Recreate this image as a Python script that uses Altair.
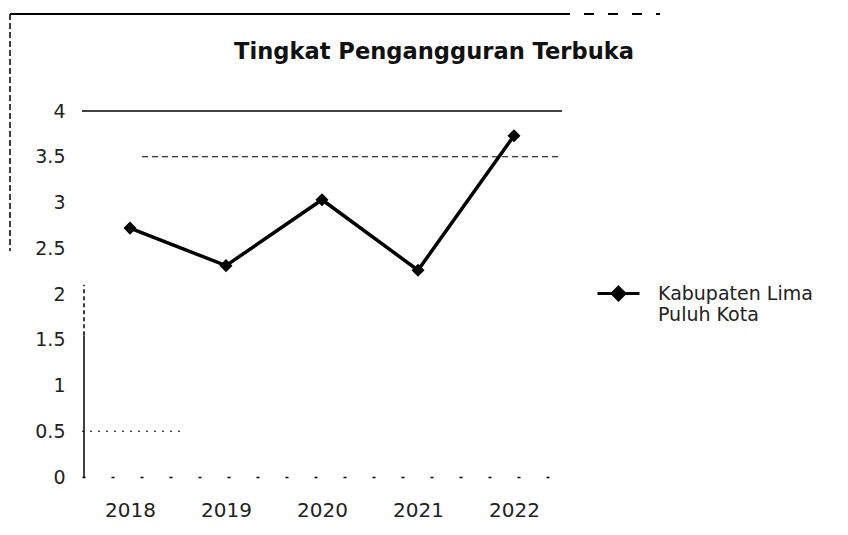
import altair as alt
import pandas as pd

years = ["2018", "2019", "2020", "2021", "2022"]
values = [2.72, 2.31, 3.03, 2.26, 3.73]
series_name = "Kabupaten Lima Puluh Kota"
legend_lines = ["Kabupaten Lima", "Puluh Kota"]
y_ticks = [0, 0.5, 1, 1.5, 2, 2.5, 3, 3.5, 4]
solid_grid = [4]
dashed_grid = [3.5]
dotted_grid = [0.5]

FONT = "DejaVu Sans"

df = pd.DataFrame({"year": years, "value": values, "series": [series_name] * len(years)})
solid_df = pd.DataFrame({"level": solid_grid})
dashed_df = pd.DataFrame({"level": dashed_grid})
dotted_df = pd.DataFrame({"level": dotted_grid})

y_scale = alt.Scale(domain=[0, 4], nice=False)

x_enc = alt.X("year:N", title=None, sort=years,
              axis=alt.Axis(labelAngle=0, labelFontSize=20, labelColor="#222", labelFont=FONT,
                            labelPadding=23, ticks=False, domainColor="#000", domainDash=[3, 26],
                            domainWidth=1.5))
y_axis = alt.Axis(values=y_ticks, format="~g", labelFontSize=19, labelColor="#222",
                  labelFont=FONT, labelPadding=17, ticks=False, domain=False, grid=False)
y_enc = alt.Y("value:Q", title=None, scale=y_scale, axis=y_axis)

grid_solid = alt.Chart(solid_df).mark_rule(color="#000", strokeWidth=1.5).encode(
    y=alt.Y("level:Q", scale=y_scale, axis=y_axis))
grid_dashed = alt.Chart(dashed_df).mark_rule(color="#000", strokeWidth=1.2, strokeDash=[6, 4]).encode(
    y=alt.Y("level:Q", scale=y_scale, axis=y_axis), x=alt.value(60), x2=alt.value(480))
grid_dotted = alt.Chart(dotted_df).mark_rule(color="#000", strokeWidth=1.2, strokeDash=[2, 6]).encode(
    y=alt.Y("level:Q", scale=y_scale, axis=y_axis), x=alt.value(0), x2=alt.value(100))

y_domain = alt.Chart(pd.DataFrame({"a": [0], "b": [1.55]})).mark_rule(color="#000", strokeWidth=1.5).encode(
    x=alt.value(2), y=alt.Y("a:Q", scale=y_scale, axis=y_axis), y2="b:Q")
y_domain2 = alt.Chart(pd.DataFrame({"a": [1.55], "b": [2.1]})).mark_rule(
    color="#000", strokeWidth=1.5, strokeDash=[4, 3]).encode(
    x=alt.value(2), y=alt.Y("a:Q", scale=y_scale, axis=y_axis), y2="b:Q")

line = alt.Chart(df).mark_line(strokeWidth=3.5, color="#000",
                               point=alt.OverlayMarkDef(shape="diamond", size=170, filled=True, color="#000")).encode(
    x=x_enc, y=y_enc,
    color=alt.Color("series:N", scale=alt.Scale(range=["#000000"]), title=None,
                    legend=alt.Legend(orient="none", legendX=520, legendY=166,
                                      symbolType="M-1.4,0H1.4M0,-0.42L0.42,0L0,0.42L-0.42,0Z",
                                      symbolSize=900, symbolStrokeWidth=3, symbolFillColor="#000",
                                      symbolStrokeColor="#000", labelFontSize=19, labelFont=FONT,
                                      labelColor="#222",
                                      labelExpr="['" + legend_lines[0] + "', '" + legend_lines[1] + "']",
                                      labelLimit=300, labelOffset=23)))

top_border = alt.Chart(pd.DataFrame({"k": [0]})).mark_rule(color="#000", strokeWidth=2).encode(
    x=alt.value(-72), x2=alt.value(478), y=alt.value(-97))
top_border2 = alt.Chart(pd.DataFrame({"k": [0]})).mark_rule(color="#000", strokeWidth=2, strokeDash=[10, 14]).encode(
    x=alt.value(478), x2=alt.value(578), y=alt.value(-97))
left_border = alt.Chart(pd.DataFrame({"k": [0]})).mark_rule(color="#000", strokeWidth=1.5, strokeDash=[6, 3]).encode(
    x=alt.value(-72), y=alt.value(-97), y2=alt.value(140))

chart = alt.layer(top_border, top_border2, left_border, grid_solid, grid_dashed, grid_dotted,
                  y_domain, y_domain2, line).properties(
    width=480, height=366,
    title=alt.TitleParams("Tingkat Pengangguran Terbuka", font=FONT, fontSize=22.6, fontWeight="bold",
                          color="#111", dx=112, offset=-69, frame="group", baseline="alphabetic"),
    autosize=alt.AutoSizeParams(type="none"),
    padding={"left": 74, "top": 103, "right": 270, "bottom": 50},
).configure(background="white").configure_view(stroke=None)

chart.save("out.html", embed_options={"renderer": "svg", "actions": False})
